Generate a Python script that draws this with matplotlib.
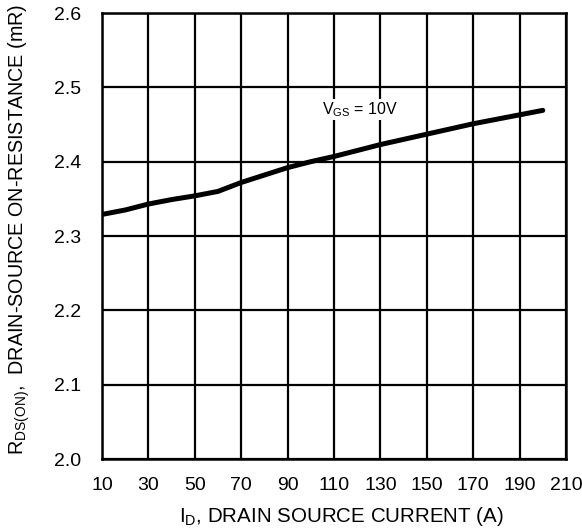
import matplotlib
matplotlib.use("Agg")
import matplotlib.pyplot as plt

plt.rcParams['font.family'] = ['Liberation Sans', 'DejaVu Sans']
plt.rcParams['mathtext.fontset'] = 'custom'
plt.rcParams['mathtext.rm'] = 'Liberation Sans'
plt.rcParams['mathtext.it'] = 'Liberation Sans'

# Data
current_a = [10, 20, 30, 40, 50, 60, 70, 80, 90, 100,
             110, 120, 130, 140, 150, 160, 170, 180, 190, 200]
rds_on = [2.329, 2.335, 2.343, 2.349, 2.354, 2.360, 2.372, 2.382, 2.392, 2.400,
          2.407, 2.415, 2.423, 2.430, 2.437, 2.444, 2.451, 2.457, 2.463, 2.469]
x_ticks = [10, 30, 50, 70, 90, 110, 130, 150, 170, 190, 210]
y_ticks = [2.0, 2.1, 2.2, 2.3, 2.4, 2.5, 2.6]
y_tick_labels = ['2.0', '2.1', '2.2', '2.3', '2.4', '2.5', '2.6']

W, H = 582, 529
fig = plt.figure(figsize=(W/100, H/100), dpi=100)
ax = fig.add_axes([102/W, 1-459/H, (566-102)/W, (459-13)/H])

ax.plot(current_a, rds_on, color='black', lw=3.6, solid_capstyle='round', zorder=3)

ax.set_xlim(10, 210)
ax.set_ylim(2.0, 2.6)
ax.set_xticks(x_ticks)
ax.set_yticks(y_ticks)
ax.set_yticklabels(y_tick_labels)
ax.grid(True, color='black', lw=1.6)
ax.tick_params(length=0, labelsize=14)
ax.tick_params(axis='x', pad=13)
ax.tick_params(axis='y', pad=15)
for s in ax.spines.values():
    s.set_linewidth(1.8)

ax.text(105, 2.47, r'$\mathregular{V_{GS}}$ = 10V', fontsize=11.5, va='center', ha='left',
        bbox=dict(facecolor='white', edgecolor='none', pad=1), zorder=4)

fig.text(341/W, 1-522/H, r'$\mathregular{I_D}$, DRAIN SOURCE CURRENT (A)',
         fontsize=14.8, ha='center', va='baseline')
fig.text(19.5/W, 1-229/H, r'$\mathregular{R_{DS(ON)}}$,  DRAIN-SOURCE ON-RESISTANCE (mR)',
         fontsize=14.2, ha='center', va='center', rotation=90)

fig.savefig('out.png', dpi=100)
